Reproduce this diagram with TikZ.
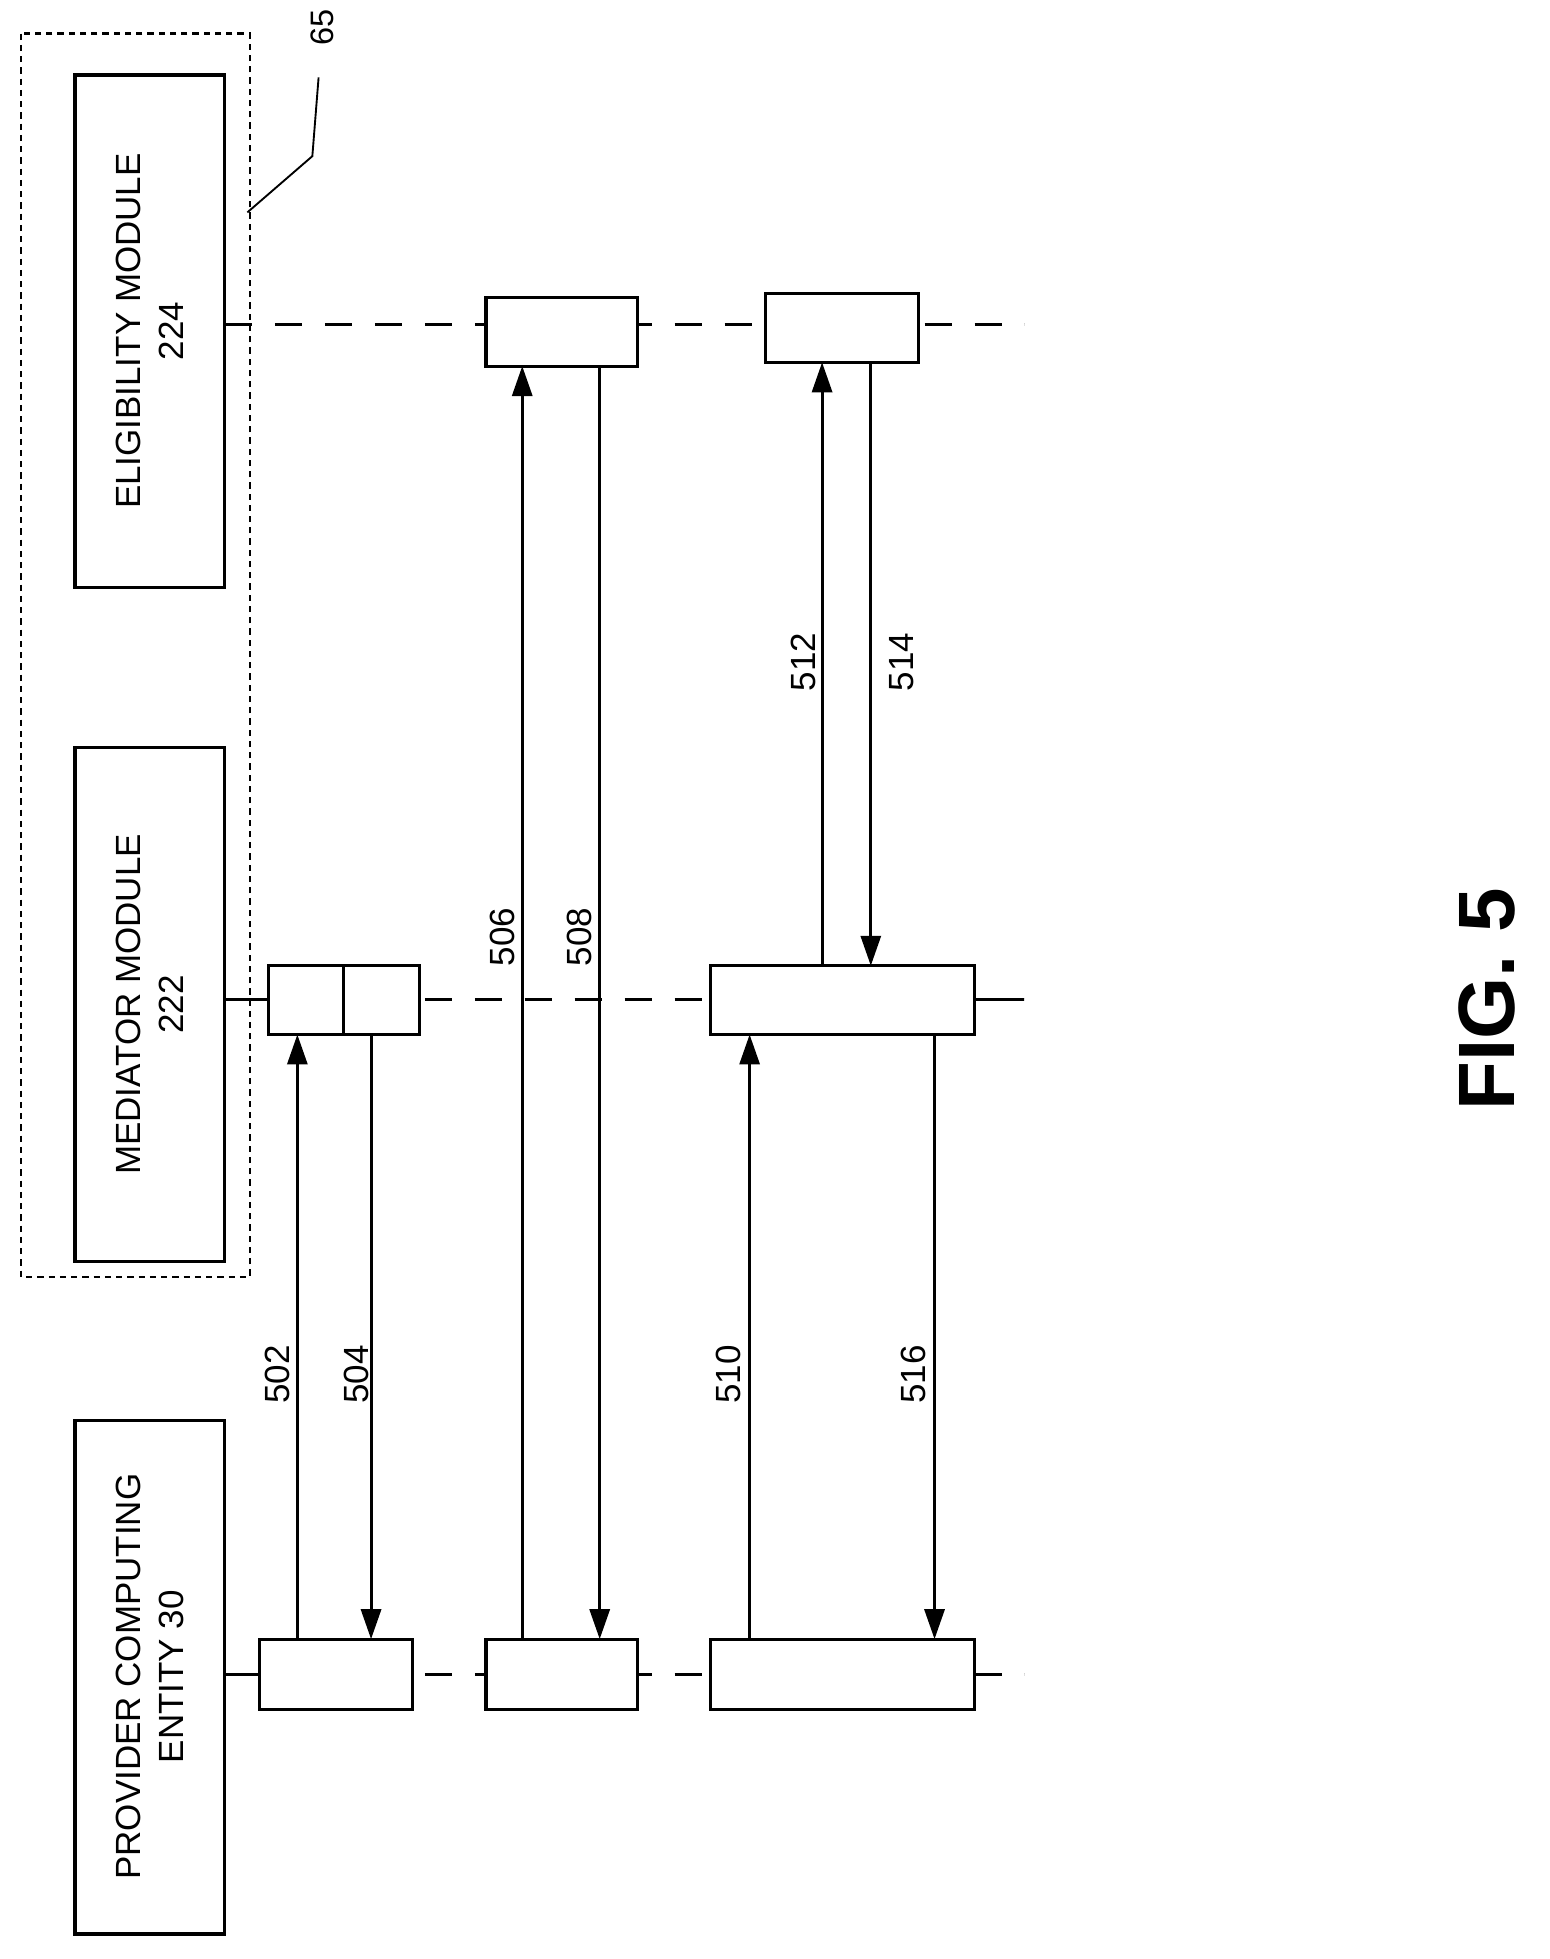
\documentclass[tikz,border=0pt]{standalone}
\usepackage{fontspec}
\setmainfont{Liberation Sans}
\usetikzlibrary{arrows.meta}
\begin{document}
\begin{tikzpicture}[x=1pt,y=-1pt,
  box/.style={draw,line width=2.5pt,fill=white},
  life/.style={line width=2.5pt,dash pattern=on 22pt off 18pt},
  msg/.style={line width=2.5pt,-{Triangle[length=24pt,width=16pt]}},
  lbl/.style={rotate=90,font=\fontsize{28}{30}\selectfont,inner sep=0pt},
  title/.style={rotate=90,font=\fontsize{28}{34}\selectfont,align=center}]
\useasboundingbox (0,0) rectangle (1240,1568);
% group
\draw[line width=2pt,dash pattern=on 5pt off 4pt] (17,27) rectangle (200,1022);
\coordinate (g) at (198,170);
\draw[line width=1.5pt] (g) -- (250,125) -- (255,62);
\node[rotate=90,font=\fontsize{26}{28}\selectfont] (n65) at (258,22) {65};
% lifelines
\draw[life] (180,260) -- (820,260);
\draw[life] (180,800) -- (820,800);
\draw[life] (180,1340) -- (820,1340);
\draw[line width=2.5pt] (180,800)--(215,800) (780,800)--(820,800) (180,1340)--(208,1340);
% headers
\draw[box] (60,60) rectangle (180,470);
\node[title] (elig) at (120,265) {ELIGIBILITY MODULE\\224};
\draw[box] (60,598) rectangle (180,1010);
\node[title] (med) at (120,804) {MEDIATOR MODULE\\222};
\draw[box] (60,1137) rectangle (180,1548);
\node[title] (prov) at (120,1342) {PROVIDER COMPUTING\\ENTITY 30};
% activations
\draw[box] (389,238) rectangle (510,293);
\draw[box] (613,235) rectangle (735,290);
\draw[box] (215,773) rectangle (336,828);
\draw[line width=2.5pt] (275,773) -- (275,828);
\draw[box] (569,773) rectangle (780,828);
\draw[box] (208,1312) rectangle (330,1368);
\draw[box] (389,1312) rectangle (510,1368);
\draw[box] (569,1312) rectangle (780,1368);
% messages
\draw[msg] (238,1312) -- (238,828);
\draw[msg] (297,828) -- (297,1312);
\draw[msg] (418,1312) -- (418,293);
\draw[msg] (480,293) -- (480,1312);
\draw[msg] (600,1312) -- (600,828);
\draw[msg] (658,773) -- (658,290);
\draw[msg] (697,290) -- (697,773);
\draw[msg] (748,828) -- (748,1312);
% labels
\node[lbl] (l502) at (222,1100) {502};
\node[lbl] (l504) at (285,1100) {504};
\node[lbl] (l506) at (402,750) {506};
\node[lbl] (l508) at (464,750) {508};
\node[lbl] (l510) at (583,1100) {510};
\node[lbl] (l512) at (643,530) {512};
\node[lbl] (l514) at (722,530) {514};
\node[lbl] (l516) at (731,1100) {516};
\node[rotate=90,font=\fontsize{64}{70}\selectfont\bfseries] (fig) at (1190,800) {FIG. 5};
\end{tikzpicture}
\end{document}
